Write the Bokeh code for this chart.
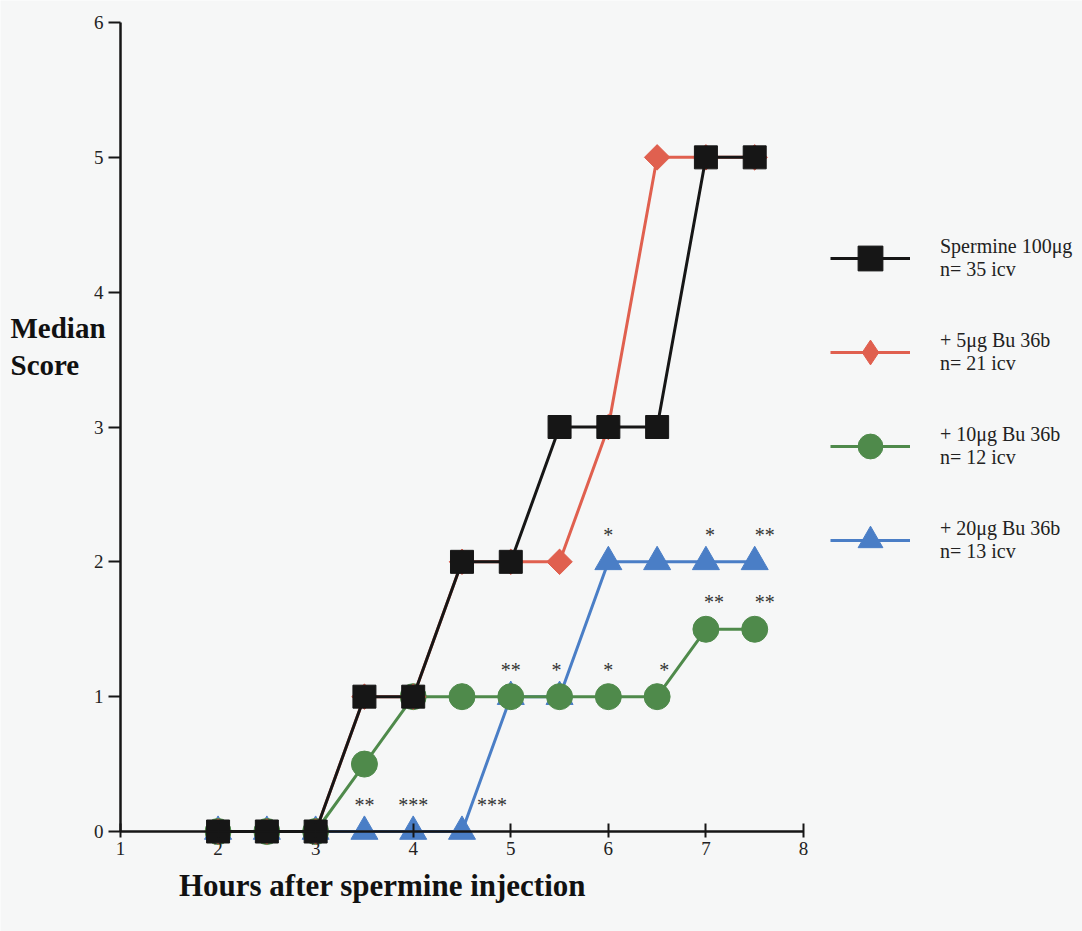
import math
from bokeh.plotting import figure
from bokeh.models import Legend, LegendItem, Label, FixedTicker, ColumnDataSource
from bokeh.core.properties import value
from bokeh.embed import file_html
from bokeh.resources import INLINE

# ---------------- data ----------------
hours = [2, 2.5, 3, 3.5, 4, 4.5, 5, 5.5, 6, 6.5, 7, 7.5]
spermine = [0, 0, 0, 1, 1, 2, 2, 3, 3, 3, 5, 5]
bu5 = [0, 0, 0, 1, 1, 2, 2, 2, 3, 5, 5, 5]
bu10 = [0, 0, 0, 0.5, 1, 1, 1, 1, 1, 1, 1.5, 1.5]
bu20 = [0, 0, 0, 0, 0, 0, 1, 1, 2, 2, 2, 2]
series_labels = [
    "Spermine 100\u03bcg\nn= 35 icv",
    "+ 5\u03bcg Bu 36b\nn= 21 icv",
    "+ 10\u03bcg Bu 36b\nn= 12 icv",
    "+ 20\u03bcg Bu 36b\nn= 13 icv",
]
sig_hours = [3.5, 4, 4.5, 5, 5.5, 6, 6.5, 7, 7.5, 6, 7, 7.5]
sig_scores = [0, 0, 0, 1, 1, 1, 1, 1.5, 1.5, 2, 2, 2]
sig_marks = ["**", "***", "***", "**", "*", "*", "*", "**", "**", "*", "*", "**"]
x_ticks = [1, 2, 3, 4, 5, 6, 7, 8]
y_ticks = [0, 1, 2, 3, 4, 5, 6]
x_title = "Hours after spermine injection"
y_title = "Median\nScore"

# ---------------- style / layout ----------------
FONT = "Liberation Serif"
BG = "#f6f7f7"
C_BLACK = "#161616"
C_RED = "#e0604f"
C_GREEN = "#4f8a4b"
C_BLUE = "#4a7ec6"

W, H = 1082, 931
X0_PX, XS = 120, 97.57      # pixel of x=1, px per hour
Y0_PX, YS = 831, 134.83     # pixel of y=0 (from top), px per score unit
x_start = 1 - X0_PX / XS
x_end = 1 + (W - X0_PX) / XS
y_end = Y0_PX / YS
y_start = -(H - Y0_PX) / YS

p = figure(width=W, height=H, output_backend="svg", toolbar_location=None,
           x_range=(x_start, x_end), y_range=(y_start, y_end),
           min_border_left=0, min_border_right=0,
           min_border_top=0, min_border_bottom=0)
p.background_fill_color = BG
p.border_fill_color = BG
p.outline_line_color = None
p.grid.visible = False

# axes at fixed positions
p.xaxis.fixed_location = 0
p.yaxis.fixed_location = 1
p.xaxis.bounds = (1, 8)
p.yaxis.bounds = (0, 6)
p.xaxis.ticker = FixedTicker(ticks=x_ticks)
p.yaxis.ticker = FixedTicker(ticks=y_ticks)
for ax in (p.xaxis, p.yaxis):
    ax.axis_line_width = 2.5
    ax.axis_line_color = C_BLACK
    ax.major_tick_line_width = 2
    ax.major_tick_line_color = C_BLACK
    ax.minor_tick_line_color = None
    ax.major_label_text_font = FONT
    ax.major_label_text_font_size = "19px"
    ax.major_label_text_color = "#222222"
p.xaxis.major_tick_out = 6
p.xaxis.major_tick_in = 8
p.xaxis.major_label_standoff = 4
p.yaxis.major_tick_out = 12
p.yaxis.major_tick_in = 0
p.yaxis.major_label_standoff = 5

# series (drawn bottom to top: blue, green, red, black)
def series(ys, color, marker, size, angle=0.0, legend_marker=None):
    ln = p.line(hours, ys, line_color=color, line_width=3)
    rs = [ln]
    if legend_marker is not None:
        # marker used for the legend sample; hidden under the plotted markers
        rs.append(p.scatter(hours, ys, marker=legend_marker, size=24,
                            fill_color=color, line_color=color))
    sc = p.scatter(hours, ys, marker=marker, size=size, angle=angle,
                   fill_color=color, line_color=color)
    if legend_marker is None:
        rs.append(sc)
    return rs

r_blue = series(bu20, C_BLUE, "triangle", 27)
r_green = series(bu10, C_GREEN, "circle", 26)
r_red = series(bu5, C_RED, "square", 18, angle=math.pi / 4, legend_marker="diamond")
r_black = series(spermine, C_BLACK, "square", 23)

# significance marks
x_offs = [0, 0, 30, 0, -3, 0, 7, 8, 10, 0, 4, 10]
src = ColumnDataSource(dict(x=sig_hours, y=sig_scores, t=sig_marks, xo=x_offs))
p.text(x="x", y="y", text="t", x_offset="xo", y_offset=-27, source=src,
       text_align="center", text_baseline="middle",
       text_font=value(FONT), text_font_size="20px", text_color="#333333")

# titles
p.add_layout(Label(x=1 - 110 / XS, y=3.6, text=y_title, text_align="left",
                   text_baseline="middle", text_font=FONT, text_font_size="29px",
                   text_font_style="bold", text_color="#111111", text_line_height=1.15))
p.add_layout(Label(x=1 + 262 / XS, y=-54 / YS, text=x_title, text_align="center",
                   text_baseline="middle", text_font=FONT, text_font_size="31px",
                   text_font_style="bold", text_color="#111111"))

# legend
items = [LegendItem(label=series_labels[0], renderers=r_black),
         LegendItem(label=series_labels[1], renderers=r_red),
         LegendItem(label=series_labels[2], renderers=r_green),
         LegendItem(label=series_labels[3], renderers=r_blue)]
legend = Legend(items=items, location=(830, H - 571), orientation="vertical",
                glyph_width=80, glyph_height=62, spacing=32, padding=0, margin=0,
                label_standoff=30, label_text_font=FONT, label_text_font_size="20px",
                label_text_line_height=1.3, label_text_color="#222222",
                background_fill_alpha=0, border_line_alpha=0)
p.add_layout(legend, "center")

open("out.html", "w").write(file_html(p, INLINE))
